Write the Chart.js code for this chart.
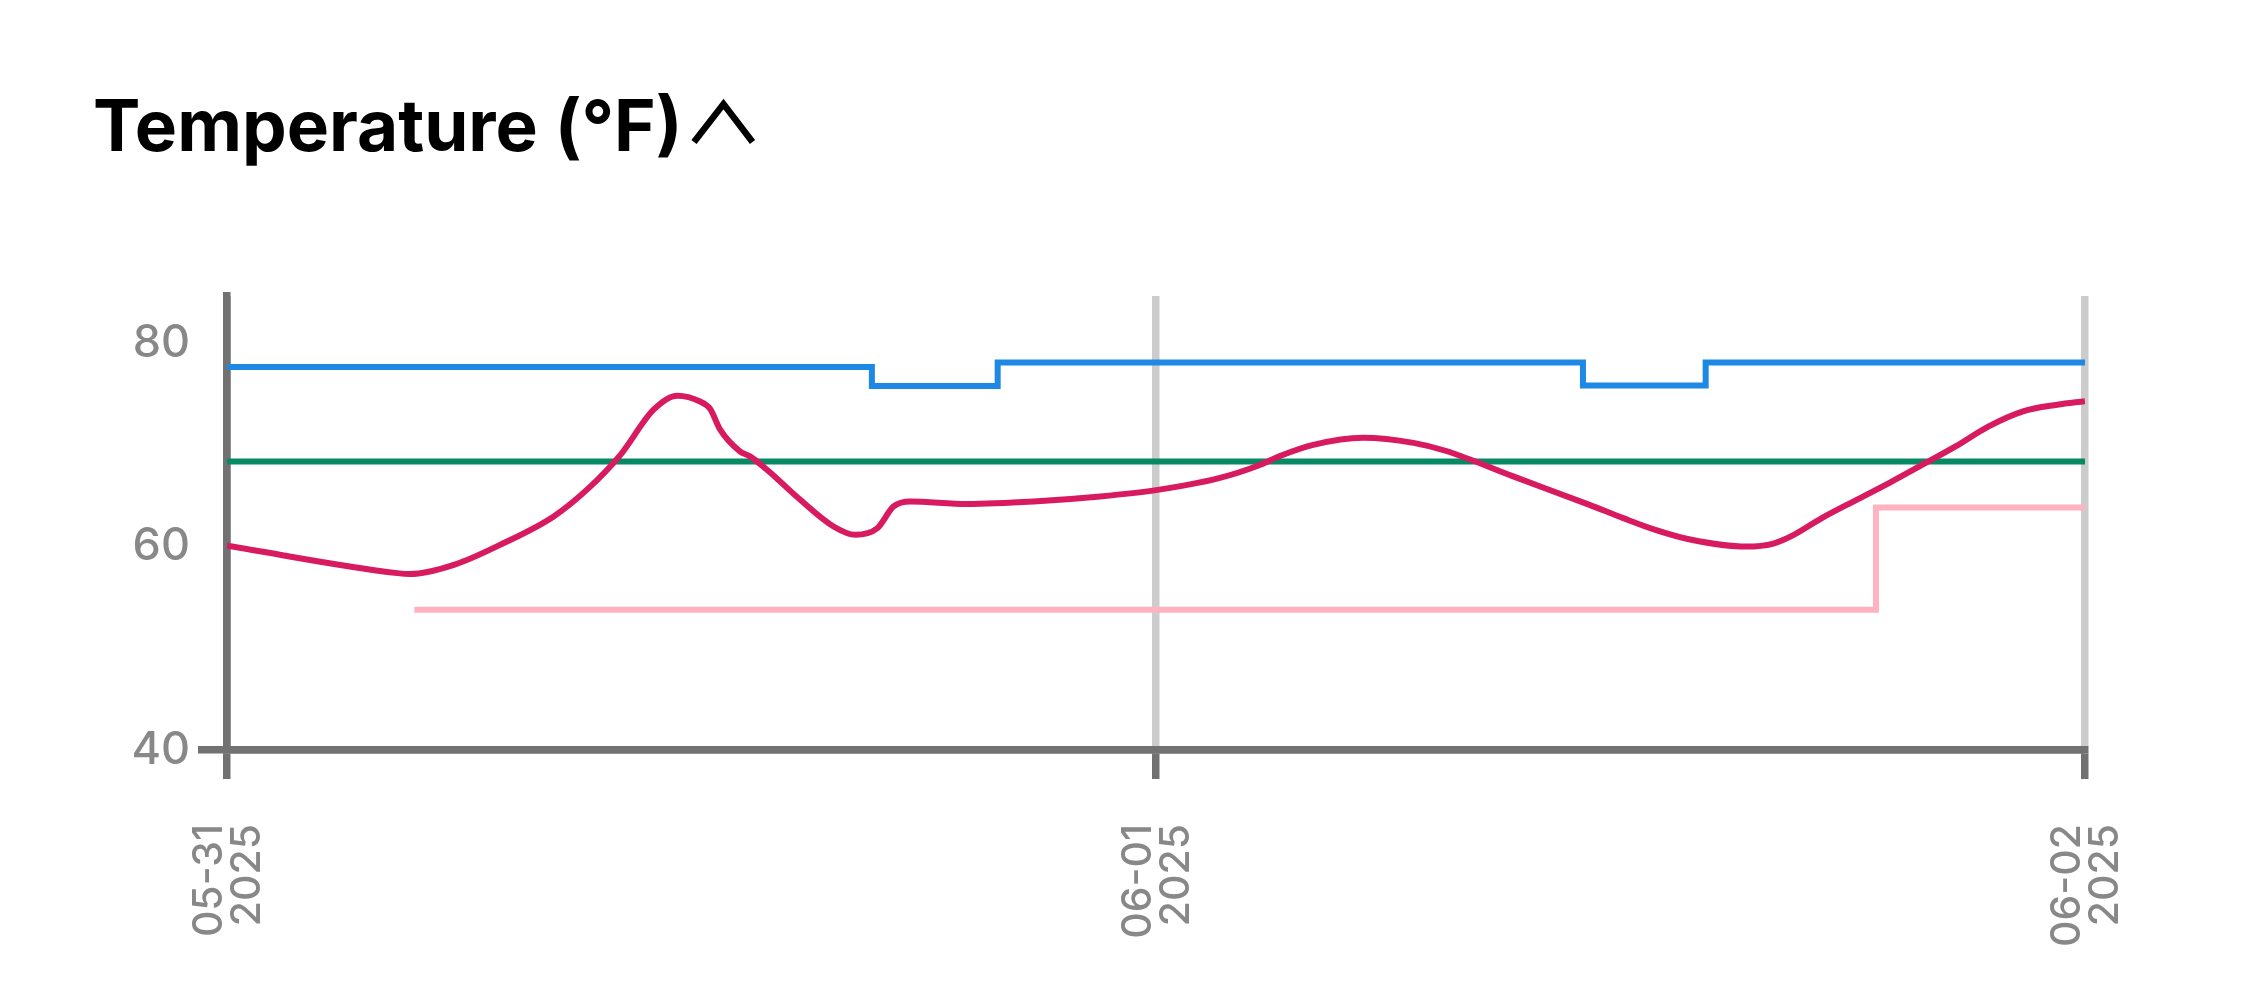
<!DOCTYPE html>
<html>
<head>
<meta charset="utf-8">
<title>Temperature (°F)</title>
<script src="https://cdn.jsdelivr.net/npm/chart.js@4.4.1/dist/chart.umd.min.js"></script>
<style>
  html, body { margin: 0; padding: 0; background: #fff; }
  body { width: 2263px; height: 1000px; position: relative; overflow: hidden; font-family: Inter, "Liberation Sans", sans-serif; }
  .chart-box { position: absolute; left: 0; top: 0; width: 2263px; height: 1000px; }
  .title { position: absolute; left: 93px; top: 90px; font-size: 71px; font-weight: 700; line-height: 70px; color: #000; white-space: nowrap; }
  .chevron { position: absolute; left: 0; top: 0; pointer-events: none; }
</style>
</head>
<body>
<div class="chart-box"><canvas id="tempChart"></canvas></div>
<div class="title">Temperature (°F)</div>
<svg class="chevron" width="800" height="200">
  <polyline points="694,142 723.5,104 752.5,142" fill="none" stroke="#000" stroke-width="6.5" />
</svg>
<script>
// data (hours since 05-31 00:00, °F)
const sensorHours = [0, 4.4, 4.72, 5.86, 7.15, 8.44, 9.3, 10.16, 11.02, 11.63, 12.22, 12.48, 12.74, 13.25, 13.51, 13.95, 14.81, 15.67, 16.23, 16.8, 17.22, 17.65, 19.12, 20.84, 22.56, 24, 25.6, 26.7, 27.2, 28.06, 29.35, 30.65, 31.5, 33.23, 35.2, 36.07, 36.9, 37.8, 39.26, 39.95, 40.4, 41.2, 42.1, 42.96, 43.8, 44.68, 45.5, 46.4, 47.28, 48];
const sensorTemps = [60.08, 57.39, 57.3, 58.2, 60.35, 62.97, 65.6, 69.0, 73.46, 74.84, 74.27, 73.55, 71.5, 69.37, 68.87, 67.56, 64.6, 61.98, 61.16, 61.8, 63.95, 64.44, 64.2, 64.44, 64.93, 65.55, 66.7, 68.05, 68.9, 70.0, 70.7, 70.2, 69.4, 66.9, 64.1, 62.8, 61.65, 60.7, 60.0, 60.3, 61.0, 62.8, 64.6, 66.3, 68.05, 69.9, 71.8, 73.3, 73.95, 74.3];

const highHours = [0, 16.66, 19.91, 35.03, 38.2, 48];
const highTemps = [77.66, 75.78, 78.1, 75.85, 78.1, 78.1];

const targetHours = [0, 48];
const targetTemps = [68.37, 68.37];

const lowHours = [4.84, 42.6, 48];
const lowTemps = [53.8, 63.85, 63.85];

const tickHours = [0, 24, 48];
const tickLabels = [["05-31", "2025"], ["06-01", "2025"], ["06-02", "2025"]];
const yTicks = [40, 60, 80];

const toPoints = (xs, ys) => xs.map((x, i) => ({ x: x, y: ys[i] }));

const axisGray = "#717171";
const labelGray = "#888888";

Chart.defaults.font.family = "Inter";

const ctx = document.getElementById("tempChart").getContext("2d");
new Chart(ctx, {
  type: "line",
  data: {
    datasets: [
      {
        label: "Temperature",
        data: toPoints(sensorHours, sensorTemps),
        borderColor: "#d81b60",
        borderWidth: 6,
        cubicInterpolationMode: "monotone",
        pointRadius: 0,
      },
      {
        label: "High",
        data: toPoints(highHours, highTemps),
        borderColor: "#1e88e5",
        borderWidth: 6,
        stepped: true,
        pointRadius: 0,
      },
      {
        label: "Target",
        data: toPoints(targetHours, targetTemps),
        borderColor: "#058a64",
        borderWidth: 6,
        pointRadius: 0,
      },
      {
        label: "Low",
        data: toPoints(lowHours, lowTemps),
        borderColor: "#ffb3c0",
        borderWidth: 6,
        stepped: true,
        pointRadius: 0,
      },
    ],
  },
  options: {
    responsive: true,
    maintainAspectRatio: false,
    animation: false,
    layout: {
      padding: { left: 0, top: 296, right: 178, bottom: 0 },
    },
    plugins: {
      legend: { display: false },
      tooltip: { enabled: false },
    },
    scales: {
      x: {
        type: "linear",
        min: 0,
        max: 48,
        afterBuildTicks: (scale) => {
          scale.ticks = tickHours.map((v) => ({ value: v }));
        },
        afterFit: (scale) => {
          scale.height = 250;
        },
        border: { color: axisGray, width: 7.5 },
        grid: {
          color: (c) => (c.index === 0 ? axisGray : "#cccccc"),
          tickColor: axisGray,
          lineWidth: 7.5,
          tickLength: 29,
        },
        ticks: {
          autoSkip: false,
          minRotation: 90,
          maxRotation: 90,
          padding: 45,
          labelOffset: -17,
          color: labelGray,
          font: { size: 41, weight: "500", lineHeight: 0.92 },
          callback: (value, index) => tickLabels[index],
        },
      },
      y: {
        min: 40,
        max: 84.64,
        afterBuildTicks: (scale) => {
          scale.ticks = yTicks.map((v) => ({ value: v }));
        },
        afterFit: (scale) => {
          scale.width = 227;
        },
        border: { color: axisGray, width: 7.5 },
        grid: {
          color: (c) => (c.tick && c.tick.value === 40 ? axisGray : "rgba(0,0,0,0)"),
          lineWidth: 7.5,
          tickLength: 29,
        },
        ticks: {
          padding: 8,
          color: labelGray,
          font: { size: 45, weight: "500" },
        },
      },
    },
  },
});
</script>
</body>
</html>
